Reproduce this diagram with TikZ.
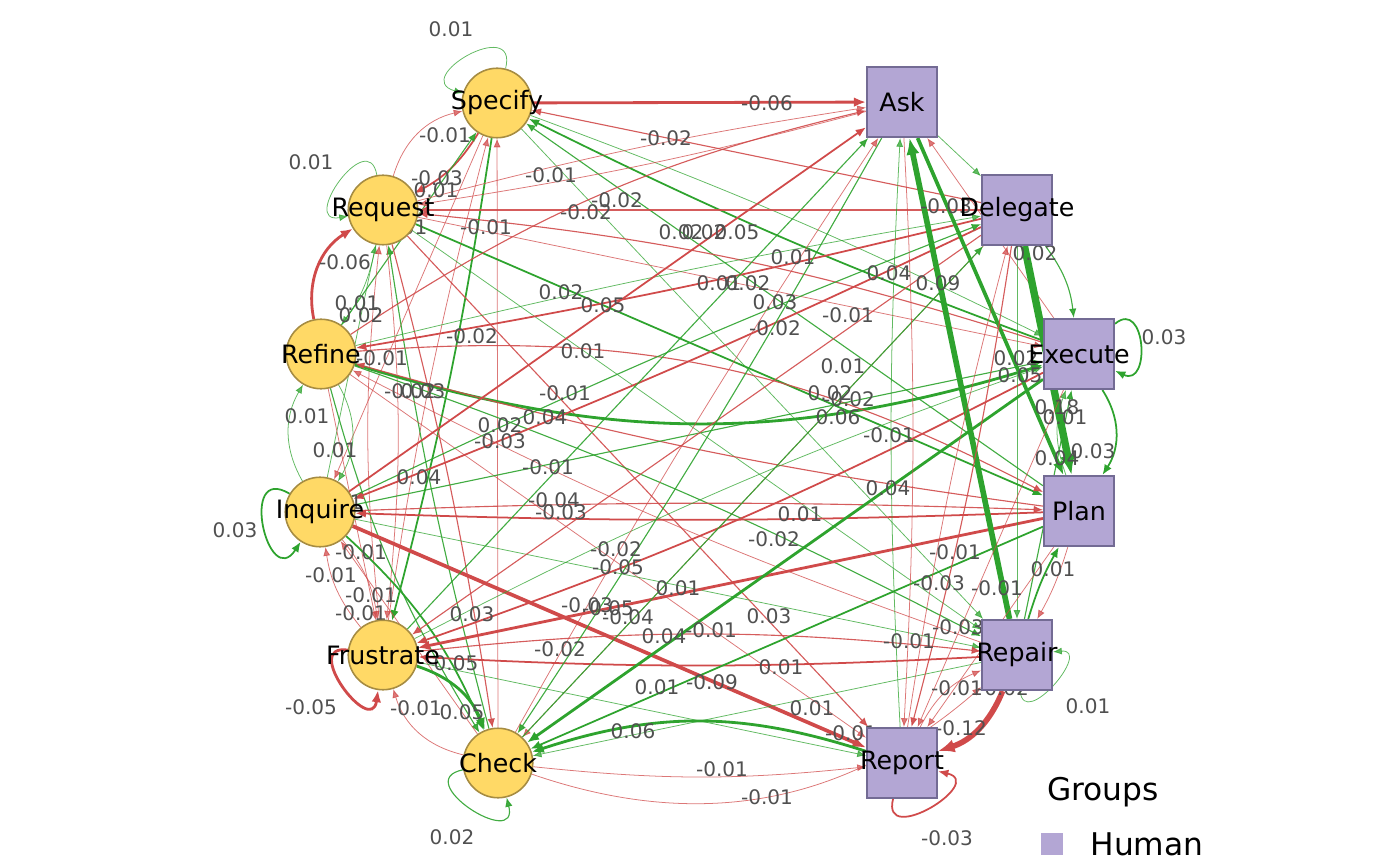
\documentclass[tikz,border=0pt]{standalone}
\usepackage{fontspec}
\setmainfont{DejaVu Sans}
\usetikzlibrary{arrows.meta}
\definecolor{negc}{RGB}{208,74,74}
\definecolor{posc}{RGB}{46,163,46}
\definecolor{labc}{RGB}{80,80,80}
\definecolor{cfill}{RGB}{255,217,102}
\definecolor{cdraw}{RGB}{166,140,66}
\definecolor{sfill}{RGB}{179,166,212}
\definecolor{sdraw}{RGB}{115,107,148}
\pgfdeclarelayer{bg}\pgfdeclarelayer{mid}\pgfsetlayers{bg,mid,main}
\begin{document}
\begin{tikzpicture}[x=0.1mm,y=0.1mm,
  cn/.style={circle, fill=cfill, draw=cdraw, line width=0.45pt, minimum size=6.95mm, inner sep=0pt},
  sq/.style={rectangle, fill=sfill, draw=sdraw, line width=0.45pt, minimum width=7.05mm, minimum height=7.05mm, inner sep=0pt},
  nl/.style={font=\fontsize{7.2}{8.6}\selectfont, text=black, inner sep=0pt},
  el/.style={font=\fontsize{5.7}{6.8}\selectfont, text=labc, inner sep=0pt},
  lg/.style={font=\fontsize{8.9}{10.5}\selectfont, text=black, inner sep=0pt},
  ng/.style={draw=negc, -{Latex[length=0.75mm 1.6, width=0.6mm 1.3]}},
  ps/.style={draw=posc, -{Latex[length=0.75mm 1.6, width=0.6mm 1.3]}},
  wa/.style={line width=0.22pt, opacity=0.75},
  wb/.style={line width=0.32pt, opacity=0.9},
  wc/.style={line width=0.5pt},
  wd/.style={line width=0.8pt},
  we/.style={line width=1.05pt},
  wf/.style={line width=1.35pt},
  wg/.style={line width=1.6pt},
  wh/.style={line width=2.1pt}]
\useasboundingbox (0,0) rectangle (1400,-866);

% nodes
\node[cn, label={[nl]center:Specify}] (Sp) at (497,-103) {};
\node[cn, label={[nl]center:Request}] (Rq) at (383,-210) {};
\node[cn, label={[nl]center:Refine}] (Rf) at (321,-354) {};
\node[cn, label={[nl]center:Inquire}] (In) at (320,-512) {};
\node[cn, label={[nl]center:Frustrate}] (Fr) at (383,-655) {};
\node[cn, label={[nl]center:Check}] (Ch) at (498,-763) {};
\node[sq, label={[nl]center:Ask}] (As) at (902,-102) {};
\node[sq, label={[nl]center:Delegate}] (De) at (1017,-210) {};
\node[sq, label={[nl]center:Execute}] (Ex) at (1079,-354) {};
\node[sq, label={[nl]center:Plan}] (Pl) at (1079,-511) {};
\node[sq, label={[nl]center:Repair}] (Re) at (1017,-655) {};
\node[sq, label={[nl]center:Report}] (Rp) at (902,-763) {};

% legend
\node[lg] (gtitle) at (1103,-792) {Groups};
\node[fill=sfill, minimum size=2.2mm, inner sep=0pt] (gkey) at (1052,-844) {};
\node[lg] (ghuman) at (1147,-844) {Human};

\begin{pgfonlayer}{bg}
% Specify
\draw[ng,wd] (Sp) -- (As);
\draw[ng,wb] (De) -- (Sp);
\draw[ng,wa] (Rq) to[bend left=30] (Sp);
\draw[ng,wc] (Sp) to[bend left=15] (Rq);
\draw[ps,wb] (Rf) -- (Sp);
\draw[ps,wc] (Sp) to[bend left=3] (Fr);
\draw[ng,wa] (Fr) to[bend left=3] (Sp);
\draw[ps,wc] (Ex) to[bend left=3] (Sp);
\draw[ps,wa] (Sp) to[bend left=3] (Ex);
\draw[ps,wb] (Pl) -- (Sp);
\draw[ps,wa] (Sp) -- (Re);
\draw[ng,wa] (Ch) -- (Sp);
\draw[ng,wa] (Sp) -- (In);
% Request
\draw[ng,wa] (As) to[bend left=3] (Rq);
\draw[ng,wa] (Rq) to[bend left=3] (As);
\draw[ng,wb] (De) -- (Rq);
\draw[ng,wb] (Ex) to[bend right=6] (Rq);
\draw[ps,wc] (Rq) -- (Pl);
\draw[ng,wb] (Rq) -- (Rp);
\draw[ps,wa] (Rq) -- (Re);
\draw[ng,wb] (Rq) to[bend left=3] (Ch);
\draw[ps,wb] (Ch) to[bend left=3] (Rq);
\draw[ng,wd] (Rf) to[bend left=35] (Rq);
\draw[ps,wa] (Rq) to[bend left=12] (Rf);
\draw[ps,wa] (In) -- (Rq);
\draw[ng,wa] (Fr) to[bend left=6] (Rq);
\draw[ng,wa] (Rq) to[bend left=6] (Fr);
\draw[ng,wa] (Rq) -- (Ex);
% Refine
\draw[ng,wc] (De) to[bend left=2] (Rf);
\draw[ps,wa] (Rf) to[bend left=2] (De);
\draw[ng,wb] (Rf) to[bend left=10] (As);
\draw[ps,wd] (Rf) to[bend right=17] (Ex);
\draw[ng,wb] (Pl) to[bend left=4] (Rf);
\draw[ng,wb] (Rf) to[bend left=16] (Pl);
\draw[ps,wb] (Rf) to[bend left=4] (Re);
\draw[ng,wa] (Rf) -- (Rp);
\draw[ps,wb] (Rf) to[bend right=8] (Ch);
\draw[ps,wa] (Rf) to[bend left=30] (In);
\draw[ps,wa] (In) to[bend left=30] (Rf);
\draw[ng,wa] (Rf) -- (Fr);
\draw[ng,wa] (Re) to[bend left=4] (Rf);
% Inquire
\draw[ng,wc] (De) to[bend left=2] (In);
\draw[ps,wb] (In) to[bend left=2] (De);
\draw[ng,wc] (In) -- (As);
\draw[ps,wb] (In) -- (Ex);
\draw[ng,wc] (Pl) to[bend left=2] (In);
\draw[ng,wb] (In) to[bend left=2] (Pl);
\draw[ng,we] (In) -- (Rp);
\draw[ps,wa] (In) -- (Re);
\draw[ng,wa] (In) to[bend left=15] (Fr);
\draw[ng,wa] (Fr) to[bend left=15] (In);
\draw[ng,wa] (Ch) -- (In);
\draw[ps,wc] (In) to[bend left=12] (Ch);
% Frustrate
\draw[ps,wb] (Fr) -- (As);
\draw[ng,wb] (De) -- (Fr);
\draw[ng,wc] (Ex) to[bend left=4] (Fr);
\draw[ng,wd] (Pl) -- (Fr);
\draw[ng,wc] (Re) to[bend left=3] (Fr);
\draw[ng,wb] (Fr) to[bend left=6] (Re);
\draw[ps,wd] (Fr) to[bend left=25] (Ch);
\draw[ng,wa] (Ch) to[bend left=30] (Fr);
\draw[ps,wa] (Fr) -- (Rp);
\draw[ps,wa] (Fr) to[bend left=4] (Ex);
% Check
\draw[ps,wd] (Rp) to[bend right=18] (Ch);
\draw[ng,wa] (Ch) to[bend right=6] (Rp);
\draw[ng,wa] (Ch) to[bend right=30] (Re);
\draw[ps,wd] (Ex) -- (Ch);
\draw[ps,wc] (Pl) -- (Ch);
\draw[ps,wb] (As) to[bend left=2] (Ch);
\draw[ng,wa] (Ch) to[bend left=2] (As);
\draw[ng,wa] (De) -- (Ch);
\draw[ps,wa] (Re) -- (Ch);
\draw[ps,wb] (Ch) -- (De);
% right cluster
\draw[ps,wg] (Re) -- (As);
\draw[ps,we] (As) -- (Pl);
\draw[ps,wa] (As) -- (De);
\draw[ng,wa] (Ex) -- (As);
\draw[ps,wb] (De) to[bend left=15] (Ex);
\draw[ps,wh] (De) -- (Pl);
\draw[ps,wc] (Ex) to[bend left=33] (Pl);
\draw[ps,wa] (Pl) to[bend left=20] (Ex);
\draw[ps,wc] (Re) to[bend left=6] (Pl);
\draw[ng,wa] (Pl) to[bend left=6] (Re);
\draw[ps,wb] (Re) -- (Ex);
\draw[ng,wb] (De) to[bend left=3] (Rp);
\draw[ng,wa] (Rp) to[bend left=3] (De);
\draw[ps,wa] (De) -- (Re);
\draw[ng,wg] (Re) to[bend left=25] (Rp);
\draw[ng,wa] (Rp) to[bend left=20] (Re);
\draw[ng,wa] (Pl) -- (Rp);
\draw[ng,wa] (Ex) -- (Rp);
\draw[ng,wa] (As) to[bend left=3] (Rp);
\draw[ps,wa] (Rp) to[bend left=3] (As);
% self loops
\draw[ps,wa] (Sp) to[out=76,in=164,distance=5.5mm] (Sp);
\draw[ps,wa] (Rq) to[out=100,in=190,distance=5mm] (Rq);
\draw[ps,wc] (In) to[out=149,in=237,distance=6mm] (In);
\draw[ng,wd] (Fr) to[out=172,in=262,distance=4.8mm] (Fr);
\draw[ps,wb] (Ch) to[out=191,in=284,distance=5.5mm] (Ch);
\draw[ps,wc] (Ex) to[out=40,in=-25,distance=4mm] (Ex);
\draw[ps,wa] (Re) to[out=-85,in=5,distance=4mm] (Re);
\draw[ng,wc] (Rp) to[out=-104,in=-13,distance=5mm] (Rp);
\end{pgfonlayer}

\begin{pgfonlayer}{mid}
\foreach \x/\y/\t [count=\i] in {
 451/29/0.01, 311/162/0.01, 445/135/-0.01, 437/178/-0.03, 436/190/0.01,
 551/175/-0.01, 617/200/-0.02, 586/212/-0.02, 486/227/-0.01, 405/227/0.01,
 681/232/0.02, 704/232/0.02, 737/232/0.05, 793/257/0.01, 767/103/-0.06,
 666/138/-0.02, 889/273/0.04, 938/283/0.09, 946/206/-0.03, 1035/253/0.02,
 1164/337/0.03, 1016/358/0.02, 1020/375/0.05, 1057/407/0.18, 1065/417/0.01,
 719/283/0.01, 748/283/0.02, 775/302/0.03, 561/292/0.02, 603/305/0.05,
 345/262/-0.06, 357/303/0.01, 361/315/0.02, 472/336/-0.02, 382/358/-0.01,
 410/391/-0.02, 423/391/0.03, 583/351/0.01, 565/393/-0.01, 500/425/0.02,
 545/417/0.04, 500/441/-0.03, 307/416/0.01, 335/450/0.01, 419/477/0.04,
 548/467/-0.01, 554/500/-0.04, 561/512/-0.03, 848/315/-0.01, 775/328/-0.02,
 843/366/0.01, 830/393/0.02, 849/399/-0.02, 838/417/0.06, 889/435/-0.01,
 888/488/0.04, 800/514/0.01, 1057/458/0.04, 1093/451/0.03, 955/552/-0.01,
 939/583/-0.03, 997/588/-0.01, 1053/569/0.01, 958/627/-0.03, 909/641/-0.01,
 340/502/0.01, 235/530/0.03, 361/552/-0.01, 331/575/-0.01, 371/595/-0.01,
 361/613/-0.01, 472/614/0.03, 456/663/0.05, 311/707/-0.05, 416/708/-0.01,
 462/712/0.05, 774/539/-0.02, 616/549/-0.02, 618/567/-0.05, 678/588/0.01,
 587/605/-0.03, 608/608/-0.05, 628/617/-0.04, 769/616/0.03, 664/636/0.04,
 711/630/-0.01, 560/649/-0.02, 781/667/0.01, 712/682/-0.09, 657/687/0.01,
 812/708/0.01, 633/731/0.06, 851/733/-0.01, 722/769/-0.01, 767/797/-0.01,
 452/837/0.02, 957/688/-0.01, 1003/688/-0.02, 961/728/-0.12, 947/838/-0.03,
 1088/706/0.01}
 \node[el] (lab\i) at (\x,-\y) {\t};
\end{pgfonlayer}
\end{tikzpicture}
\end{document}
